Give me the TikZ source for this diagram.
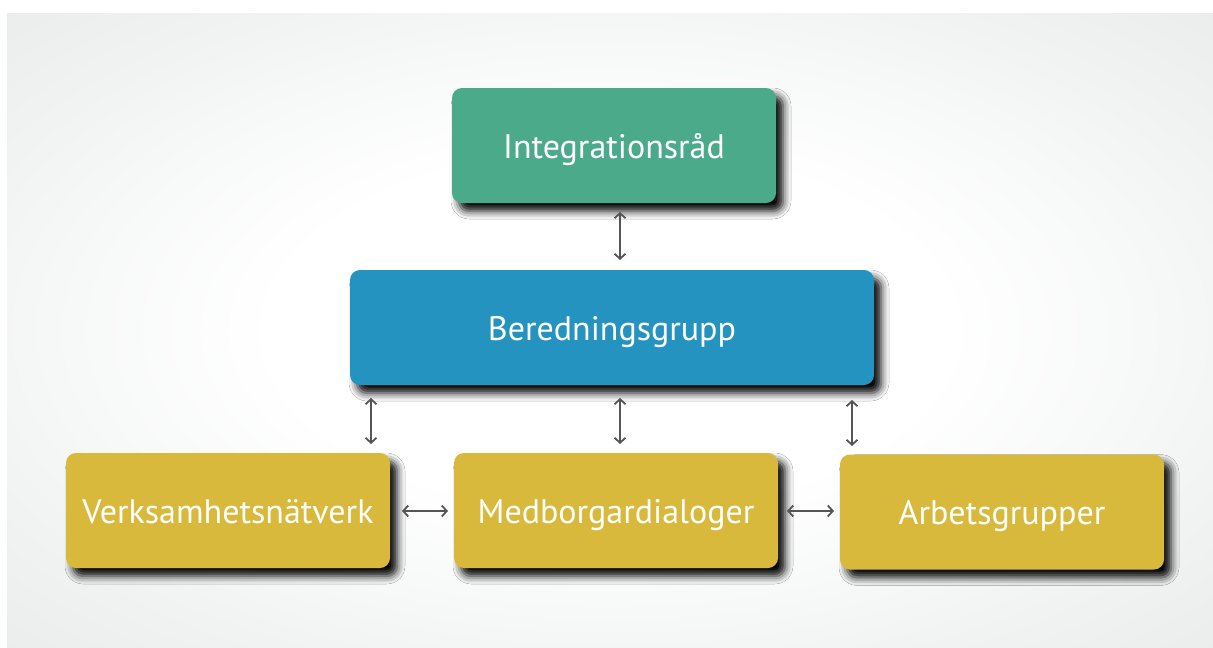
\documentclass[tikz,border=0pt]{standalone}
\usepackage{fontspec}
\newfontfamily\boxfont{PT Sans}
\usetikzlibrary{shadows.blur,arrows.meta}
\definecolor{bggray}{HTML}{DCE1DF}
\definecolor{cgreen}{HTML}{4BAA89}
\definecolor{cblue}{HTML}{2593C0}
\definecolor{cyellow}{HTML}{D8B93B}
\definecolor{arrowgray}{HTML}{555555}
\pgfdeclareradialshading{bgshade}{\pgfpoint{0bp}{0bp}}{color(0bp)=(white); color(14bp)=(white); color(50bp)=(bggray); color(100bp)=(bggray)}
\tikzset{
  box/.style={rounded corners=10pt, minimum width=324pt, minimum height=115pt,
    inner sep=0pt, text=white, font=\boxfont\fontsize{34}{40}\selectfont,
    text height=25pt, text depth=0pt,
    blur shadow={shadow xshift=7pt, shadow yshift=-8pt, shadow blur radius=8pt, shadow opacity=100}},
  link/.style={draw=arrowgray, line width=1.8pt, {Straight Barb[length=5pt,width=11pt]}-{Straight Barb[length=5pt,width=11pt]}}
}
\begin{document}
\begin{tikzpicture}[x=1pt,y=-1pt]
\useasboundingbox (0,0) rectangle (1213,648);
\fill[white] (0,0) rectangle (1213,648);
\shade[shading=bgshade] (7,13) rectangle (1213,648);
\node[box, fill=cgreen] (int) at (614,145.5) {Integrationsråd};
\node[box, fill=cblue, minimum width=524pt] (ber) at (612,327.5) {Beredningsgrupp};
\node[box, fill=cyellow] (ver) at (228,510.5) {Verksamhetsnätverk};
\node[box, fill=cyellow] (med) at (616,510.5) {Medborgardialoger};
\node[box, fill=cyellow] (arb) at (1002,512) {Arbetsgrupper};
\coordinate (a1s) at (620,212); \coordinate (a1e) at (620,260);
\coordinate (a2s) at (371,398); \coordinate (a2e) at (371,444);
\coordinate (a3s) at (620,398); \coordinate (a3e) at (620,444);
\coordinate (a4s) at (852,400); \coordinate (a4e) at (852,446);
\coordinate (h1s) at (402,511); \coordinate (h1e) at (448,511);
\coordinate (h2s) at (787,511); \coordinate (h2e) at (834,511);
\draw[link] (a1s) -- (a1e);
\draw[link] (a2s) -- (a2e);
\draw[link] (a3s) -- (a3e);
\draw[link] (a4s) -- (a4e);
\draw[link] (h1s) -- (h1e);
\draw[link] (h2s) -- (h2e);
\end{tikzpicture}
\end{document}
